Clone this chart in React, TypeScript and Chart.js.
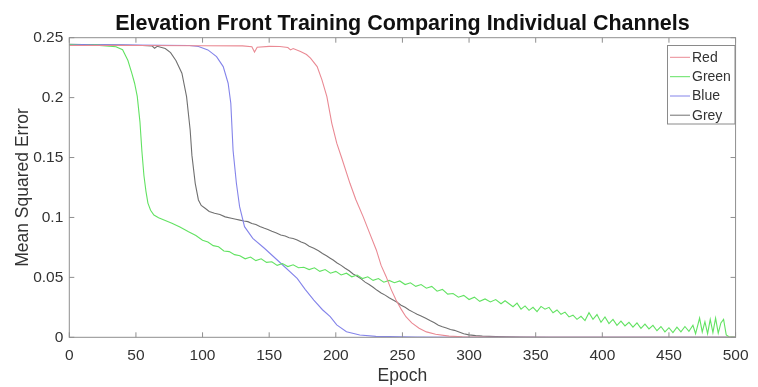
import React, { useEffect, useRef } from "react";
import { Chart, registerables } from "chart.js";

Chart.register(...registerables);

const TITLE = "Elevation Front Training Comparing Individual Channels";
const X_LABEL = "Epoch";
const Y_LABEL = "Mean Squared Error";
const SERIES_NAMES = ["Red", "Green", "Blue", "Grey"];
const SERIES_COLORS = ["#ea8a94", "#62e262", "#8484ea", "#707070"];
const X_TICKS = [0, 50, 100, 150, 200, 250, 300, 350, 400, 450, 500];
const Y_TICKS = [0, 0.05, 0.1, 0.15, 0.2, 0.25];

const redEpochs = [0, 50, 100, 130, 137, 139, 141, 150, 158, 164, 166, 168, 173.5, 178, 181, 186, 189.6, 193.3, 197, 200.7, 204.5, 210.6, 215, 220.5, 225, 230.4, 234, 237.8, 241.5, 245.2, 249, 252.6, 257, 262.5, 268, 274.9, 285, 295, 320, 500];
const redMse = [0.2435, 0.2435, 0.2433, 0.2432, 0.2425, 0.238, 0.242, 0.2428, 0.2426, 0.2418, 0.2398, 0.241, 0.2384, 0.236, 0.2329, 0.2259, 0.2148, 0.2008, 0.1786, 0.162, 0.1494, 0.1285, 0.115, 0.1007, 0.088, 0.0729, 0.06, 0.0506, 0.04, 0.0311, 0.0235, 0.0172, 0.012, 0.0075, 0.0045, 0.0025, 0.001, 0.0005, 0.0001, 0];

const greenEpochs = [0, 10, 20, 30, 35, 40, 44, 47, 49, 51, 53, 54.5, 56, 57.5, 59, 61, 63.5, 67, 72, 77, 83, 89.5, 95, 100, 104, 108, 112, 116, 120, 124, 128, 132, 136, 140, 144, 148, 152, 156, 160, 164, 168, 172, 176, 180, 184, 188, 192, 196, 200, 204, 208, 212, 216, 220, 224, 228, 232, 236, 240, 244, 248, 252, 256, 260, 264, 268, 272, 276, 280, 284, 288, 292, 296, 300, 304, 308, 312, 316, 320, 324, 327, 330, 333, 336, 339, 342, 345, 348, 351, 354, 357, 360, 363, 366, 369, 372, 375, 378, 381, 384, 387, 390, 393, 396, 399, 402, 405, 408, 411, 414, 417, 420, 423, 426, 429, 432, 435, 438, 441, 444, 447, 450, 453, 456, 459, 462, 465, 468, 470, 473, 475, 477, 479, 481, 483, 485, 487, 489, 491, 493, 495, 500];
const greenMse = [0.244, 0.2435, 0.2438, 0.243, 0.2425, 0.24, 0.231, 0.22, 0.212, 0.201, 0.18, 0.155, 0.135, 0.122, 0.112, 0.106, 0.102, 0.0998, 0.0975, 0.0951, 0.092, 0.0881, 0.085, 0.081, 0.0795, 0.0765, 0.0755, 0.072, 0.0715, 0.069, 0.068, 0.0655, 0.067, 0.064, 0.0655, 0.0625, 0.063, 0.06, 0.0615, 0.059, 0.0605, 0.058, 0.0585, 0.0565, 0.058, 0.055, 0.0565, 0.0535, 0.055, 0.052, 0.0535, 0.0505, 0.052, 0.049, 0.0505, 0.0475, 0.049, 0.046, 0.0475, 0.0455, 0.047, 0.044, 0.0455, 0.0425, 0.044, 0.041, 0.0425, 0.0385, 0.04, 0.036, 0.0365, 0.0335, 0.035, 0.0315, 0.0335, 0.03, 0.032, 0.0295, 0.0315, 0.028, 0.0305, 0.028, 0.0255, 0.0285, 0.0235, 0.0262, 0.0225, 0.025, 0.0215, 0.0258, 0.0235, 0.025, 0.0205, 0.0228, 0.0192, 0.021, 0.017, 0.0185, 0.015, 0.0175, 0.014, 0.0205, 0.015, 0.019, 0.0125, 0.017, 0.0115, 0.015, 0.01, 0.0135, 0.0095, 0.0125, 0.0085, 0.012, 0.0075, 0.011, 0.007, 0.01, 0.0055, 0.009, 0.0045, 0.008, 0.004, 0.0085, 0.0045, 0.009, 0.005, 0.01, 0.003, 0.016, 0.0045, 0.013, 0.003, 0.015, 0.004, 0.016, 0.0035, 0.012, 0.015, 0.002, 0.0005, 0];

const blueEpochs = [0, 50, 90, 97, 104, 110.5, 115.5, 119.2, 121.2, 122.9, 125.4, 127.8, 131.5, 137.7, 146.4, 158.7, 171, 177, 183.5, 190, 195.8, 200.7, 208, 218, 230, 260, 300, 500];
const blueMse = [0.2443, 0.2438, 0.2435, 0.2426, 0.2398, 0.2342, 0.2259, 0.212, 0.1953, 0.156, 0.1285, 0.109, 0.0923, 0.0826, 0.0743, 0.0618, 0.0492, 0.04, 0.0311, 0.023, 0.0172, 0.0103, 0.0047, 0.0019, 0.0008, 0.0003, 0.0001, 0];

const greyEpochs = [0, 20, 40, 55, 62, 64, 66, 72, 76, 80, 84.5, 88, 90.7, 92, 94.5, 96.9, 99, 101.9, 105, 109, 113, 117, 121.6, 125, 128, 131, 134, 137, 140, 143, 146, 149, 152, 155, 158.7, 162, 165, 168, 171, 174, 177, 180, 183.5, 187, 190, 193, 195.8, 198, 201, 204, 207, 210, 213, 216, 219, 222, 225, 228, 231, 234, 237, 240, 243, 246, 249, 252, 255, 258, 261, 264, 267.5, 271, 274, 277, 280, 283, 286, 289, 292, 296, 300, 305, 310, 320, 340, 360, 500];
const greyMse = [0.2445, 0.244, 0.2438, 0.2435, 0.2432, 0.2412, 0.2428, 0.241, 0.2375, 0.231, 0.2204, 0.2008, 0.173, 0.152, 0.1285, 0.1146, 0.11, 0.1077, 0.105, 0.1035, 0.1025, 0.1005, 0.0993, 0.0985, 0.0978, 0.097, 0.0965, 0.095, 0.0942, 0.0925, 0.0912, 0.09, 0.0885, 0.0872, 0.0854, 0.0845, 0.083, 0.0825, 0.0812, 0.0795, 0.0782, 0.076, 0.0743, 0.0722, 0.07, 0.068, 0.066, 0.0645, 0.062, 0.06, 0.0576, 0.0555, 0.0528, 0.051, 0.0488, 0.046, 0.044, 0.0418, 0.0392, 0.037, 0.0352, 0.033, 0.0311, 0.0292, 0.0268, 0.025, 0.0228, 0.021, 0.0192, 0.0178, 0.0159, 0.0138, 0.0122, 0.01, 0.0088, 0.0078, 0.0065, 0.0058, 0.0047, 0.003, 0.002, 0.0014, 0.001, 0.0006, 0.0002, 0.0001, 0];

const FONT = "'Liberation Sans', Arial, Helvetica, sans-serif";
const AXIS_COLOR = "#8f8f8f";
const TEXT_COLOR = "#333333";

function pts(xs: number[], ys: number[]) {
  return xs.map((x, i) => ({ x, y: ys[i] }));
}

const framePlugin = {
  id: "matlabFrame",
  afterDraw(chart: any) {
    const { ctx, chartArea: a, scales } = chart;
    const xs = scales.x;
    const ys = scales.y;
    ctx.save();
    ctx.strokeStyle = AXIS_COLOR;
    ctx.lineWidth = 1;
    ctx.strokeRect(a.left, a.top, a.right - a.left, a.bottom - a.top);
    const tl = 5;
    ctx.beginPath();
    X_TICKS.forEach((t) => {
      const px = xs.getPixelForValue(t);
      ctx.moveTo(px, a.bottom);
      ctx.lineTo(px, a.bottom - tl);
      ctx.moveTo(px, a.top);
      ctx.lineTo(px, a.top + tl);
    });
    Y_TICKS.forEach((t) => {
      const py = ys.getPixelForValue(t);
      ctx.moveTo(a.left, py);
      ctx.lineTo(a.left + tl, py);
      ctx.moveTo(a.right, py);
      ctx.lineTo(a.right - tl, py);
    });
    ctx.stroke();

    ctx.fillStyle = "#111";
    ctx.font = `bold 21.5px ${FONT}`;
    ctx.textAlign = "center";
    ctx.textBaseline = "alphabetic";
    ctx.fillText(TITLE, (a.left + a.right) / 2, 29.5);

    ctx.fillStyle = TEXT_COLOR;
    ctx.font = `17.5px ${FONT}`;
    ctx.fillText(X_LABEL, (a.left + a.right) / 2, 380.5);

    ctx.save();
    ctx.translate(27.5, (a.top + a.bottom) / 2);
    ctx.rotate(-Math.PI / 2);
    ctx.fillText(Y_LABEL, 0, 0);
    ctx.restore();

    const bx = 667.5, by = 45.5, bw = 67.5, bh = 78.5;
    ctx.fillStyle = "#fff";
    ctx.fillRect(bx, by, bw, bh);
    ctx.strokeStyle = "#8a8a8a";
    ctx.strokeRect(bx, by, bw, bh);
    ctx.font = `14px ${FONT}`;
    ctx.textAlign = "left";
    ctx.textBaseline = "middle";
    const rows = [57.3, 76.7, 96, 115.2];
    SERIES_NAMES.forEach((n, i) => {
      ctx.strokeStyle = SERIES_COLORS[i];
      ctx.beginPath();
      ctx.moveTo(670, rows[i]);
      ctx.lineTo(690, rows[i]);
      ctx.stroke();
      ctx.fillStyle = TEXT_COLOR;
      ctx.fillText(n, 692, rows[i] + 0.5);
    });
    ctx.restore();
  },
};

export default function App() {
  const ref = useRef<HTMLCanvasElement | null>(null);
  useEffect(() => {
    if (!ref.current) return;
    const series = [
      pts(redEpochs, redMse),
      pts(greenEpochs, greenMse),
      pts(blueEpochs, blueMse),
      pts(greyEpochs, greyMse),
    ];
    const chart = new Chart(ref.current, {
      type: "scatter",
      data: {
        datasets: SERIES_NAMES.map((n, i) => ({
          label: n,
          data: series[i],
          showLine: true,
          borderColor: SERIES_COLORS[i],
          backgroundColor: SERIES_COLORS[i],
          borderWidth: 1.1,
          pointRadius: 0,
          tension: 0,
        })),
      },
      options: {
        animation: false,
        responsive: false,
        devicePixelRatio: 1,
        layout: { padding: { left: 0, top: 37.7, right: 14.5, bottom: 0 } },
        plugins: { legend: { display: false }, title: { display: false }, tooltip: { enabled: false } },
        scales: {
          x: {
            type: "linear",
            min: 0,
            max: 500,
            afterFit: (s: any) => { s.height = 49.7; },
            afterBuildTicks: (s: any) => { s.ticks = X_TICKS.map((v) => ({ value: v })); },
            grid: { display: false, drawTicks: false },
            border: { display: false },
            ticks: {
              padding: 9.5,
              maxRotation: 0,
              autoSkip: false,
              color: TEXT_COLOR,
              font: { family: FONT, size: 15.5 },
              callback: (v: any) => String(v),
            },
          },
          y: {
            type: "linear",
            min: 0,
            max: 0.25,
            afterFit: (s: any) => { s.width = 69.3; },
            afterBuildTicks: (s: any) => { s.ticks = Y_TICKS.map((v) => ({ value: v })); },
            grid: { display: false, drawTicks: false },
            border: { display: false },
            ticks: {
              padding: 6,
              autoSkip: false,
              color: TEXT_COLOR,
              font: { family: FONT, size: 15.5 },
              callback: (v: any) => String(+Number(v).toFixed(2)),
            },
          },
        },
      },
      plugins: [framePlugin],
    });
    return () => chart.destroy();
  }, []);
  return (
    <div style={{ position: "absolute", left: 0, top: 0, width: 758, height: 387, background: "#fff" }}>
      <canvas ref={ref} width={758} height={387} style={{ display: "block" }} />
    </div>
  );
}
